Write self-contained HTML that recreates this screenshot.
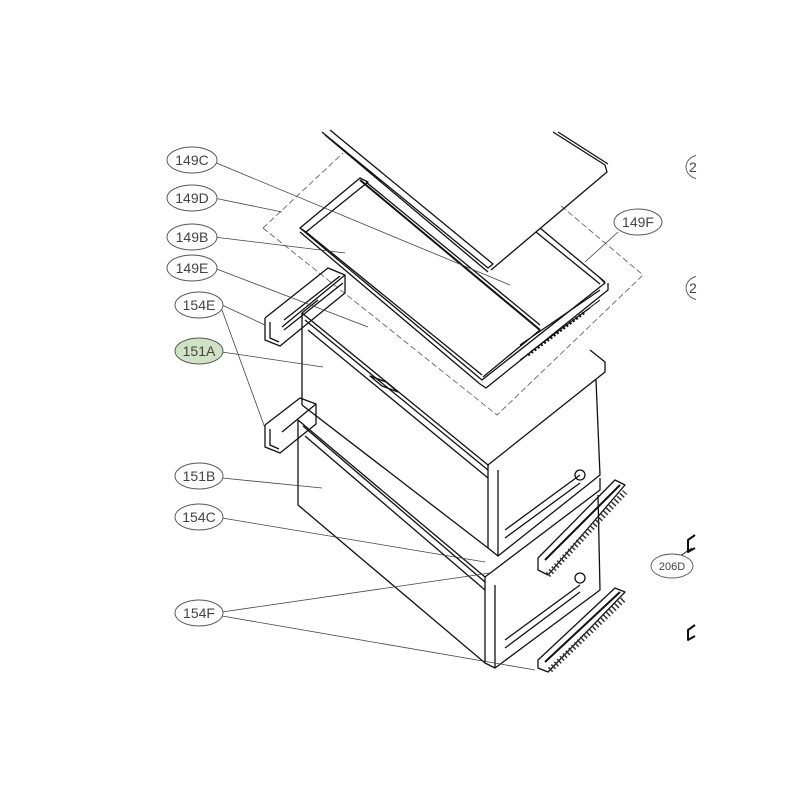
<!DOCTYPE html>
<html><head><style>
html,body{margin:0;padding:0;background:#fff;}
svg{display:block}
text{font-family:"Liberation Sans",sans-serif;font-size:14px;fill:#444;}
</style></head><body>
<svg width="800" height="800" viewBox="0 0 800 800" xmlns="http://www.w3.org/2000/svg">
<g fill="none" stroke="#111" stroke-width="1.3" stroke-linejoin="round">
<!-- dashed box -->
<polyline points="263,228 343,153" stroke="#666" stroke-width="0.9" stroke-dasharray="6,3"/>
<polyline points="263,228 497,415 643,275 560,205" stroke="#666" stroke-width="0.9" stroke-dasharray="6,3"/>
<!-- top glass cover 149C -->
<path d="M322,132 L488,268 L493,264 L330,130"/>
<path d="M325,135 L488,272"/>
<path d="M553,132 L605,165 L607,172 L491,270"/>
<path d="M558,132 L608,164"/>
<!-- frame 149D/B -->
<path d="M300,228 L360,178 L368,182 L306,232 Z"/>
<path d="M300,228 L482,380 L605,283 L600,278"/>
<path d="M300,232 L480,384 L486,388 L608,290 L608,283"/>
<path d="M306,232 L482,375"/>
<path d="M366,182 L540,325"/>
<path d="M360,180 L540,330" stroke-width="2"/>
<path d="M540,228 L605,282"/>
<path d="M536,232 L600,284"/>
<path d="M483,377 L540,330 M520,345 L600,290"/>
<path d="M520,360 L600,300 M530,352 L590,308" stroke-width="1"/>
<path d="M528,355 L585,312" stroke-width="3" stroke-dasharray="2,2"/>
<!-- upper rail 154E -->
<path d="M265,318 L328,268 L345,275 L282,327"/>
<path d="M265,318 L265,340 L280,346 L345,293 L345,275"/>
<path d="M270,322 L270,338 L279,342 M284,320 L340,276 M284,330 L343,283"/>
<!-- drawer 151A -->
<path d="M302,313 L318,300 M302,313 L302,405"/>
<path d="M302,313 L488,465 L605,372 L605,362 L590,350"/>
<path d="M305,320 L488,470 M308,330 L488,478"/>
<path d="M488,465 L488,548 L498,556"/>
<path d="M498,470 L498,556 L600,475 L596,380"/>
<path d="M302,405 L488,548"/>
<path d="M505,530 L580,475 M505,538 L580,483"/>
<path d="M370,376 L386,382 L398,392 L382,386 Z"/>
<!-- lower rail -->
<path d="M265,425 L300,398 L316,404 L282,432"/>
<path d="M265,425 L265,447 L280,453 L316,424 L316,404"/>
<path d="M270,429 L270,445 L279,449"/>
<!-- drawer 151B -->
<path d="M298,420 L298,505 L485,663"/>
<path d="M298,420 L485,577 L600,490 L600,478"/>
<path d="M303,426 L485,582 M305,436 L485,590"/>
<path d="M485,577 L485,663 L495,668"/>
<path d="M495,585 L495,668 L600,590 L598,495"/>
<path d="M505,640 L580,585 M505,648 L580,592"/>
<!-- feet -->
<circle cx="580" cy="475" r="5"/><circle cx="580" cy="578" r="5"/>
<!-- handle upper -->
<path d="M538,558 L615,480 L625,485 L548,575 L538,570 Z"/>
<path d="M545,560 L620,485" stroke-width="2"/>
<path d="M548,575 L625,492" stroke-width="6" stroke="#333" stroke-dasharray="1.5,2.5"/>
<!-- handle lower -->
<path d="M538,660 L615,588 L625,592 L548,672 L538,668 Z"/>
<path d="M545,662 L620,592" stroke-width="2"/>
<path d="M550,670 L625,598" stroke-width="6" stroke="#333" stroke-dasharray="1.5,2.5"/>
<!-- right-edge parts -->
<path d="M695,535 L688,540 L688,552 L695,548 M695,625 L688,630 L688,640 L695,636" stroke-width="2"/>
<path d="M692,548 L680,556" stroke-width="0.8"/>
</g>
<!-- leader lines -->
<g stroke="#444" stroke-width="0.8" fill="none">
<path d="M214,162 L510,285"/>
<path d="M214,198 L282,212"/>
<path d="M214,237 L345,253"/>
<path d="M214,268 L368,327"/>
<path d="M222,305 L265,325 M222,310 L265,428"/>
<path d="M222,352 L323,367"/>
<path d="M222,478 L322,488"/>
<path d="M222,518 L485,562"/>
<path d="M222,612 L490,573 M222,616 L535,670"/>
<path d="M618,232 L585,262"/>
</g>
<!-- labels -->
<g stroke="#555" stroke-width="0.9" fill="#fff">
<ellipse cx="192" cy="160" rx="25" ry="13"/>
<ellipse cx="192" cy="198" rx="25" ry="13"/>
<ellipse cx="192" cy="237" rx="25" ry="13"/>
<ellipse cx="192" cy="268" rx="25" ry="13"/>
<ellipse cx="199" cy="305" rx="24" ry="13"/>
<ellipse cx="199" cy="351" rx="24" ry="13" fill="#cfe3c4"/>
<ellipse cx="199" cy="476" rx="24" ry="13"/>
<ellipse cx="199" cy="517" rx="24" ry="13"/>
<ellipse cx="199" cy="613" rx="24" ry="13"/>
<ellipse cx="638" cy="222" rx="24" ry="13"/>
<ellipse cx="672" cy="566" rx="21" ry="12"/>
<ellipse cx="700" cy="167" rx="14" ry="12"/>
<ellipse cx="700" cy="288" rx="14" ry="12"/>
</g>
<rect x="696" y="140" width="104" height="660" fill="#fff"/>
<text x="192" y="165" text-anchor="middle">149C</text>
<text x="192" y="203" text-anchor="middle">149D</text>
<text x="192" y="242" text-anchor="middle">149B</text>
<text x="192" y="273" text-anchor="middle">149E</text>
<text x="199" y="310" text-anchor="middle">154E</text>
<text x="199" y="356" text-anchor="middle">151A</text>
<text x="199" y="481" text-anchor="middle">151B</text>
<text x="199" y="522" text-anchor="middle">154C</text>
<text x="199" y="618" text-anchor="middle">154F</text>
<text x="638" y="227" text-anchor="middle">149F</text>
<text x="672" y="570" text-anchor="middle" style="font-size:11px">206D</text>
<text x="689" y="172">2</text>
<text x="689" y="293">2</text>
</svg>
</body></html>
